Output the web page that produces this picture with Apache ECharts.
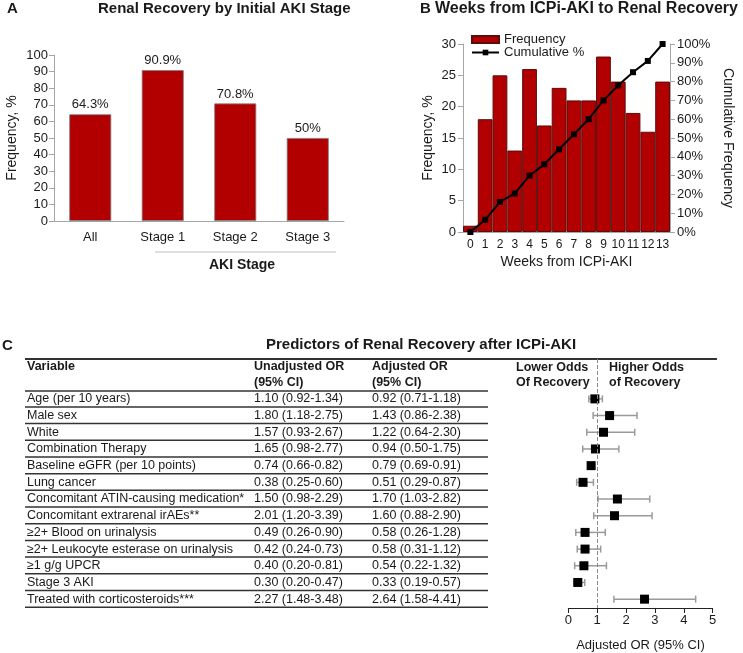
<!DOCTYPE html>
<html><head><meta charset="utf-8">
<script src="https://cdn.jsdelivr.net/npm/echarts@6/dist/echarts.min.js"></script>
<style>html,body{margin:0;padding:0;background:#fff}#c{width:743px;height:653px}</style>
</head><body><div id="c"></div>
<script>
// ---- Panel A data ----
const stageCats = ['All', 'Stage 1', 'Stage 2', 'Stage 3'];
const stageRecovery = [64.3, 90.9, 70.8, 50];
const stageLabels = ['64.3%', '90.9%', '70.8%', '50%'];
// ---- Panel B data ----
const weekCats = ['0','1','2','3','4','5','6','7','8','9','10','11','12','13'];
const weekFreq = [1, 18, 25, 13, 26, 17, 23, 21, 21, 28, 24, 19, 16, 24];
const weekCum = [0, 6.5, 16, 20.5, 30, 36, 44, 52, 60, 70, 78, 85, 91, 100];
// ---- Panel C data ----
const variables = ['Age (per 10 years)', 'Male sex', 'White', 'Combination Therapy',
  'Baseline eGFR (per 10 points)', 'Lung cancer', 'Concomitant ATIN-causing medication*',
  'Concomitant extrarenal irAEs**', '\u22652+ Blood on urinalysis',
  '\u22652+ Leukocyte esterase on urinalysis', '\u22651 g/g UPCR', 'Stage 3 AKI',
  'Treated with corticosteroids***'];
const unadjOR = ['1.10 (0.92-1.34)', '1.80 (1.18-2.75)', '1.57 (0.93-2.67)', '1.65 (0.98-2.77)',
  '0.74 (0.66-0.82)', '0.38 (0.25-0.60)', '1.50 (0.98-2.29)', '2.01 (1.20-3.39)',
  '0.49 (0.26-0.90)', '0.42 (0.24-0.73)', '0.40 (0.20-0.81)', '0.30 (0.20-0.47)', '2.27 (1.48-3.48)'];
const adjOR = [0.92, 1.43, 1.22, 0.94, 0.79, 0.51, 1.70, 1.60, 0.58, 0.58, 0.54, 0.33, 2.64];
const adjLo = [0.71, 0.86, 0.64, 0.50, 0.69, 0.29, 1.03, 0.88, 0.26, 0.31, 0.22, 0.19, 1.58];
const adjHi = [1.18, 2.38, 2.30, 1.75, 0.91, 0.87, 2.82, 2.90, 1.28, 1.12, 1.32, 0.57, 4.41];
const forestTicks = [0, 1, 2, 3, 4, 5];

const FONT = '"Liberation Sans", Arial, sans-serif';
const RED = '#B20000';
const TXT = '#1a1a1a';
const AX = '#a6a6a6';

const chart = echarts.init(document.getElementById('c'), null, {renderer: 'canvas'});

const fmt2 = v => v.toFixed(2);
const adjText = adjOR.map((v, i) => fmt2(v) + ' (' + fmt2(adjLo[i]) + '-' + fmt2(adjHi[i]) + ')');

const option = {
  animation: false,
  textStyle: {fontFamily: FONT, color: TXT},
  grid: [
    {left: 54, top: 55, width: 290, height: 166},
    {left: 463, top: 44, width: 207, height: 188},
    {left: 568.3, top: 359, width: 144.4, height: 251.7}
  ],
  legend: {
    left: 471, top: 33, orient: 'vertical', itemWidth: 27, itemHeight: 7, itemGap: 0, padding: 0,
    textStyle: {fontSize: 13, color: TXT, fontFamily: FONT, lineHeight: 13},
    data: [{name: 'Frequency', icon: 'rect'}, {name: 'Cumulative %'}]
  },
  xAxis: [
    {gridIndex: 0, type: 'category', data: stageCats,
      axisLine: {lineStyle: {color: AX}}, axisTick: {show: false},
      axisLabel: {fontSize: 13, color: TXT, margin: 10, fontFamily: FONT}},
    {gridIndex: 1, type: 'category', data: weekCats,
      axisLine: {lineStyle: {color: AX}}, axisTick: {show: false},
      axisLabel: {fontSize: 12, color: TXT, margin: 7, interval: 0, fontFamily: FONT},
      name: 'Weeks from ICPi-AKI', nameLocation: 'middle', nameGap: 23,
      nameTextStyle: {fontSize: 14, color: TXT, fontFamily: FONT}},
    {gridIndex: 2, type: 'value', position: 'bottom', min: forestTicks[0], max: forestTicks[forestTicks.length - 1], interval: 1,
      axisLine: {show: true, onZero: false, lineStyle: {color: '#222'}},
      axisTick: {show: true, length: 5, lineStyle: {color: '#222'}},
      splitLine: {show: false},
      axisLabel: {fontSize: 13, color: TXT, margin: 6, fontFamily: FONT},
      name: 'Adjusted OR (95% CI)', nameLocation: 'middle', nameGap: 31,
      nameTextStyle: {fontSize: 13, color: TXT, fontFamily: FONT}}
  ],
  yAxis: [
    {gridIndex: 0, type: 'value', min: 0, max: 100, interval: 10,
      axisLine: {show: true, lineStyle: {color: AX}}, axisTick: {show: true, length: 5, lineStyle: {color: AX}},
      splitLine: {show: false},
      axisLabel: {fontSize: 13, color: TXT, margin: 6, fontFamily: FONT},
      name: 'Frequency, %', nameLocation: 'middle', nameGap: 35,
      nameTextStyle: {fontSize: 14, color: TXT, fontFamily: FONT}},
    {gridIndex: 1, type: 'value', min: 0, max: 30, interval: 5,
      axisLine: {show: true, lineStyle: {color: AX}}, axisTick: {show: true, length: 5, lineStyle: {color: AX}},
      splitLine: {show: false},
      axisLabel: {fontSize: 13, color: TXT, margin: 7, fontFamily: FONT},
      name: 'Frequency, %', nameLocation: 'middle', nameGap: 28,
      nameTextStyle: {fontSize: 14, color: TXT, fontFamily: FONT}},
    {gridIndex: 1, type: 'value', position: 'right', min: 0, max: 100, interval: 10,
      axisLine: {show: true, lineStyle: {color: AX}}, axisTick: {show: true, length: 5, lineStyle: {color: AX}},
      splitLine: {show: false},
      axisLabel: {fontSize: 13, color: TXT, margin: 7, formatter: '{value}%', fontFamily: FONT},
      name: 'Cumulative Frequency', nameLocation: 'middle', nameGap: 51, nameRotate: -90,
      nameTextStyle: {fontSize: 14, color: TXT, fontFamily: FONT}},
    {gridIndex: 2, type: 'value', inverse: true, min: -2.39, max: 12.53, show: false}
  ],
  series: [
    {type: 'bar', xAxisIndex: 0, yAxisIndex: 0, data: stageRecovery, barWidth: 42,
      itemStyle: {color: RED, borderColor: '#808080', borderWidth: 0.8},
      label: {show: true, position: 'top', distance: 3, fontSize: 13, color: TXT, fontFamily: FONT,
        formatter: p => stageLabels[p.dataIndex]}},
    {type: 'bar', name: 'Frequency', xAxisIndex: 1, yAxisIndex: 1, data: weekFreq,
      barCategoryGap: '0%', itemStyle: {color: RED, borderColor: '#5a0d0d', borderWidth: 1}},
    {type: 'line', name: 'Cumulative %', xAxisIndex: 1, yAxisIndex: 2, data: weekCum,
      symbol: 'rect', symbolSize: 6, lineStyle: {color: '#000', width: 2}, itemStyle: {color: '#000'}},
    {type: 'custom', xAxisIndex: 2, yAxisIndex: 3,
      data: adjLo.map((lo, i) => [lo, adjHi[i], i]),
      encode: {x: [0, 1], y: 2},
      renderItem: function (params, api) {
        const y = api.value(2);
        const p1 = api.coord([api.value(0), y]);
        const p2 = api.coord([api.value(1), y]);
        const st = {stroke: '#9a9a9a', lineWidth: 1.5};
        return {type: 'group', children: [
          {type: 'line', shape: {x1: p1[0], y1: p1[1], x2: p2[0], y2: p2[1]}, style: st},
          {type: 'line', shape: {x1: p1[0], y1: p1[1] - 3.5, x2: p1[0], y2: p1[1] + 3.5}, style: st},
          {type: 'line', shape: {x1: p2[0], y1: p2[1] - 3.5, x2: p2[0], y2: p2[1] + 3.5}, style: st}
        ]};
      }},
    {type: 'scatter', xAxisIndex: 2, yAxisIndex: 3,
      data: adjOR.map((v, i) => [v, i]), symbol: 'rect', symbolSize: 9,
      itemStyle: {color: '#000', opacity: 1},
      markLine: {silent: true, symbol: ['none', 'none'], label: {show: false},
        lineStyle: {type: 'dashed', color: '#8a8a8a', width: 1}, data: [{xAxis: 1}]}}
  ]
};
chart.setOption(option);

// ---- graphic: titles, table, annotations ----
const rowY = i => chart.convertToPixel({yAxisIndex: 3}, i);
const g = [];
const txt = (x, y, text, font, align) => g.push({type: 'text', x: x, y: y, silent: true,
  style: {text: text, font: font, fill: TXT, align: align || 'left', verticalAlign: 'middle'}});
const ln = (x1, y1, x2, y2, color, w) => g.push({type: 'line', silent: true,
  shape: {x1: x1, y1: y1, x2: x2, y2: y2}, style: {stroke: color, lineWidth: w}});

const BOLD15 = 'bold 15px ' + FONT;
const BOLD16 = 'bold 16px ' + FONT;
const BOLD14 = 'bold 14px ' + FONT;
const BOLD12 = 'bold 12.5px ' + FONT;
const REG12 = '12.5px ' + FONT;

txt(7, 9, 'A', BOLD15);
txt(98, 9, 'Renal Recovery by Initial AKI Stage', BOLD15);
txt(420, 9, 'B', BOLD15);
txt(435, 9, 'Weeks from ICPi-AKI to Renal Recovery', BOLD16);
ln(155, 252, 336, 252, '#bdbdbd', 1);
txt(242, 265, 'AKI Stage', BOLD14, 'center');

txt(2, 346, 'C', BOLD15);
txt(421, 345, 'Predictors of Renal Recovery after ICPi-AKI', BOLD15, 'center');
ln(25, 359, 717, 359, '#333', 2);
txt(27, 367, 'Variable', BOLD12);
txt(254, 367, 'Unadjusted OR', BOLD12);
txt(254, 383, '(95% CI)', BOLD12);
txt(372, 367, 'Adjusted OR', BOLD12);
txt(372, 383, '(95% CI)', BOLD12);
txt(516, 368, 'Lower Odds', BOLD12);
txt(516, 383, 'Of Recovery', BOLD12);
txt(609, 368, 'Higher Odds', BOLD12);
txt(609, 383, 'of Recovery', BOLD12);
ln(25, 391, 488, 391, '#333', 1.5);
variables.forEach((v, i) => {
  const y = rowY(i);
  txt(27, y, v, REG12);
  txt(254, y, unadjOR[i], REG12);
  txt(372, y, adjText[i], REG12);
  ln(25, y + 8, 488, y + 8, '#333', 1.5);
});
chart.setOption({graphic: g});
</script></body></html>
